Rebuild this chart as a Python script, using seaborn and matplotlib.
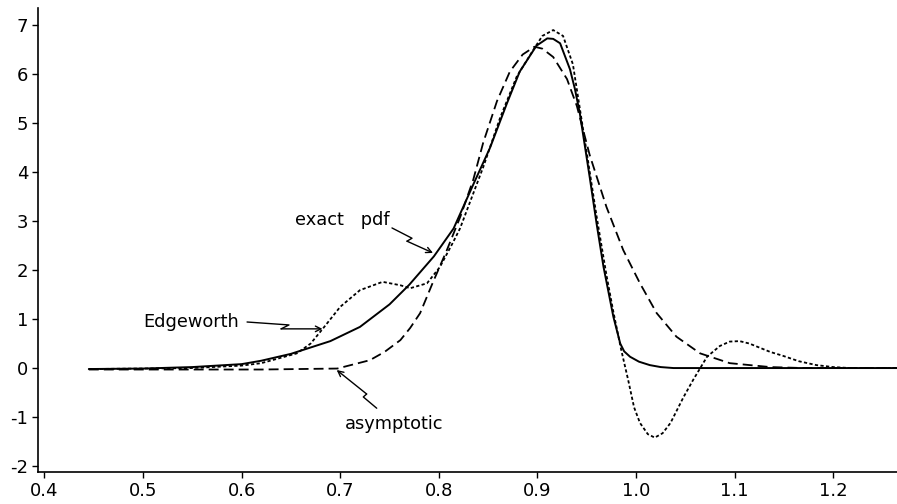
import numpy as np
import pandas as pd
import seaborn as sns
import matplotlib
matplotlib.use("Agg")
import matplotlib.pyplot as plt

# ---- data ----
exact_x = [0.445, 0.50, 0.55, 0.60, 0.62, 0.65, 0.69, 0.72, 0.75, 0.77, 0.795,
           0.815, 0.835, 0.852, 0.869, 0.882, 0.899, 0.91, 0.916, 0.923, 0.933,
           0.938, 0.943, 0.953, 0.96, 0.967, 0.977, 0.984, 0.988, 0.994, 1.003,
           1.014, 1.025, 1.038, 1.06, 1.27]
exact_y = [-0.02, -0.01, 0.02, 0.08, 0.15, 0.29, 0.55, 0.84, 1.30, 1.70, 2.28,
           2.85, 3.75, 4.50, 5.40, 6.05, 6.58, 6.73, 6.72, 6.63, 6.10,
           5.70, 5.20, 3.90, 2.95, 2.07, 1.05, 0.50, 0.34, 0.23, 0.13,
           0.06, 0.02, 0.0, 0.0, 0.0]

edge_x = [0.445, 0.50, 0.55, 0.60, 0.62, 0.656, 0.67, 0.683, 0.70, 0.72, 0.743,
          0.761, 0.771, 0.788, 0.801, 0.814, 0.8215, 0.845, 0.862, 0.879, 0.896,
          0.905, 0.916, 0.926, 0.936, 0.943, 0.95, 0.96, 0.97, 0.977, 0.985,
          0.992, 0.998, 1.004, 1.012, 1.019, 1.027, 1.035, 1.048, 1.058, 1.072,
          1.085, 1.095, 1.105, 1.115, 1.136, 1.149, 1.165, 1.183, 1.20,
          1.217, 1.27]
edge_y = [-0.02, -0.01, 0.0, 0.05, 0.10, 0.30, 0.50, 0.82, 1.25, 1.59, 1.76,
          1.69, 1.63, 1.73, 2.06, 2.55, 2.85, 4.10, 5.10, 5.95, 6.50,
          6.78, 6.90, 6.78, 6.20, 5.30, 4.40, 3.10, 1.90, 1.15, 0.37,
          -0.24, -0.80, -1.12, -1.35, -1.42, -1.33, -1.12, -0.60, -0.24, 0.23,
          0.45, 0.54, 0.55, 0.50, 0.33, 0.25, 0.14, 0.06, 0.02,
          0.0, 0.0]

asym_x = [0.445, 0.55, 0.62, 0.697, 0.73, 0.745, 0.761, 0.771, 0.781, 0.794,
          0.808, 0.822, 0.835, 0.845, 0.859, 0.872, 0.885, 0.897, 0.905, 0.916,
          0.93, 0.94, 0.953, 0.97, 0.987, 1.004, 1.021, 1.041, 1.065, 1.095,
          1.136, 1.17, 1.27]
asym_y = [-0.03, -0.03, -0.03, -0.01, 0.16, 0.33, 0.57, 0.82, 1.12, 1.75,
          2.40, 3.10, 3.85, 4.60, 5.45, 6.05, 6.40, 6.56, 6.52, 6.35,
          5.90, 5.35, 4.35, 3.29, 2.41, 1.73, 1.12, 0.64, 0.30, 0.10,
          0.02, 0.0, 0.0]

x_ticks = [0.4, 0.5, 0.6, 0.7, 0.8, 0.9, 1.0, 1.1, 1.2]
x_tick_labels = ["0.4", "0.5", "0.6", "0.7", "0.8", "0.9", "1.0", "1.1", "1.2"]
y_ticks = [-2, -1, 0, 1, 2, 3, 4, 5, 6, 7]
y_tick_labels = ["-2", "-1", "0", "1", "2", "3", "4", "5", "6", "7"]

# callout labels (text position, zigzag arrow path) in data coordinates
labels = ["exact   pdf", "Edgeworth", "asymptotic"]
label_pos = [(0.654, 3.02), (0.500, 0.94), (0.705, -1.14)]
arrow_paths = [
    [(0.7525, 2.86), (0.7728, 2.65), (0.7677, 2.59), (0.7941, 2.35)],
    [(0.6055, 0.94), (0.6480, 0.88), (0.6400, 0.80), (0.6820, 0.80)],
    [(0.7370, -0.82), (0.7234, -0.59), (0.7268, -0.53), (0.6964, -0.04)],
]

sns.set_theme(style="ticks")
plt.rcParams["font.family"] = ["DejaVu Sans"]

fig = plt.figure(figsize=(8.97, 5.04), dpi=100)
ax = fig.add_axes([0.0424, 0.0635, 0.9576, 0.9206])

df_exact = pd.DataFrame({"x": exact_x, "y": exact_y})
df_edge = pd.DataFrame({"x": edge_x, "y": edge_y})
df_asym = pd.DataFrame({"x": asym_x, "y": asym_y})

sns.lineplot(data=df_exact, x="x", y="y", ax=ax, color="black", lw=1.4,
             sort=False, estimator=None)
sns.lineplot(data=df_edge, x="x", y="y", ax=ax, color="black", lw=1.3,
             linestyle=(0, (1.8, 1.3)), sort=False, estimator=None)
sns.lineplot(data=df_asym, x="x", y="y", ax=ax, color="black", lw=1.3,
             linestyle=(0, (5.5, 2.8)), sort=False, estimator=None)

for text, (tx, ty), path in zip(labels, label_pos, arrow_paths):
    ax.text(tx, ty, text, ha="left", va="center", fontsize=12.8, color="black")
    px = [p[0] for p in path[:-1]]
    py = [p[1] for p in path[:-1]]
    ax.plot(px, py, color="black", lw=1.0)
    ax.annotate("", xy=path[-1], xytext=path[-2],
                arrowprops=dict(arrowstyle="->", color="black", lw=1.0,
                                shrinkA=0, shrinkB=0, mutation_scale=10))

ax.set_xlim(0.3935, 1.2647)
ax.set_ylim(-2.122, 7.35)
ax.set_xticks(x_ticks)
ax.set_xticklabels(x_tick_labels)
ax.set_yticks(y_ticks)
ax.set_yticklabels(y_tick_labels)
ax.set_xlabel("")
ax.set_ylabel("")
ax.tick_params(axis="both", labelsize=13, length=4, width=1.0, color="black",
               labelcolor="black", pad=3, direction="out")
sns.despine(ax=ax, top=True, right=True)
for s in ["left", "bottom"]:
    ax.spines[s].set_color("black")
    ax.spines[s].set_linewidth(1.2)
ax.set_facecolor("white")
fig.patch.set_facecolor("white")

fig.savefig("out.png", dpi=100, facecolor="white")
